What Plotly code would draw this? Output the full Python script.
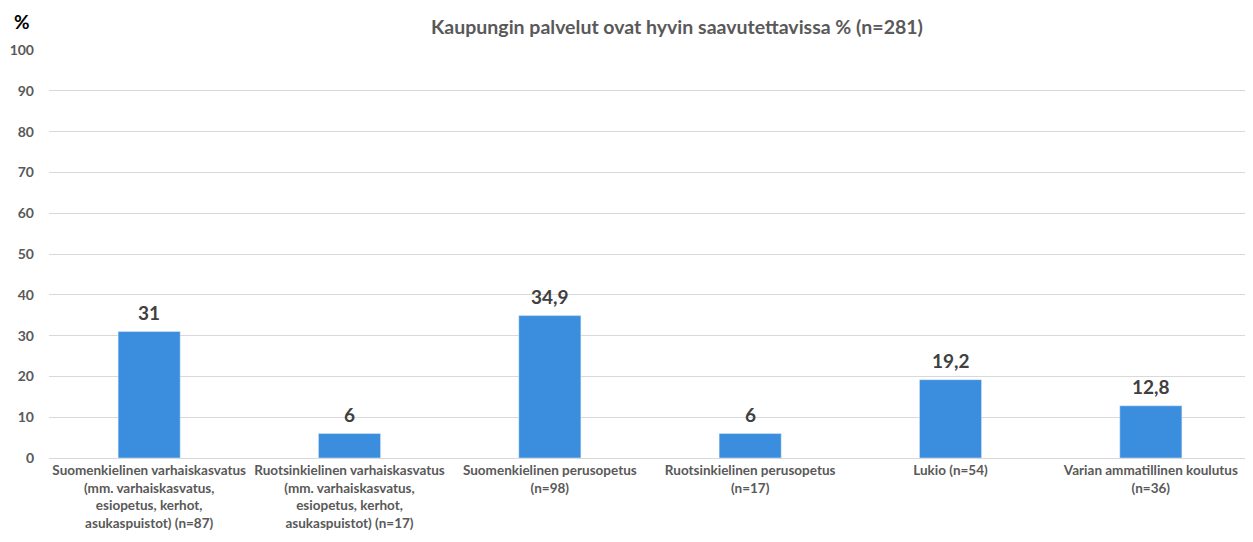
import plotly.graph_objects as go

categories = [
    "Suomenkielinen varhaiskasvatus<br>(mm. varhaiskasvatus,<br>esiopetus, kerhot,<br>asukaspuistot) (n=87)",
    "Ruotsinkielinen varhaiskasvatus<br>(mm. varhaiskasvatus,<br>esiopetus, kerhot,<br>asukaspuistot) (n=17)",
    "Suomenkielinen perusopetus<br>(n=98)",
    "Ruotsinkielinen perusopetus<br>(n=17)",
    "Lukio (n=54)",
    "Varian ammatillinen koulutus<br>(n=36)",
]
values = [31, 6, 34.9, 6, 19.2, 12.8]
labels = ["31", "6", "34,9", "6", "19,2", "12,8"]
y_ticks = list(range(0, 101, 10))

FONT = "Lato"
GRAY = "#595959"

W, H = 1245, 534
L, R, T, B = 39, 2, 42, 84
pw, ph = W - L - R, H - T - B

fig = go.Figure(go.Bar(
    x=categories, y=values,
    marker=dict(color="#3B8EDE"),
))
annotations = [
    dict(x=c, y=v, text="<b>%s</b>" % t, xref="x", yref="y", showarrow=False,
         yanchor="bottom", yshift=6,
         font=dict(family=FONT, size=19, color="#404040"))
    for c, v, t in zip(categories, values, labels)
]
annotations.append(dict(text="<b>%</b>", xref="paper", yref="paper",
                        x=(12 - L) / pw, y=(H - B - 1) / ph,
                        xanchor="center", yanchor="top", showarrow=False,
                        borderpad=0,
                        font=dict(family=FONT, size=19, color="black")))
fig.update_layout(
    width=W, height=H,
    margin=dict(l=L, r=R, t=T, b=B),
    paper_bgcolor="white", plot_bgcolor="white",
    bargap=0.69, showlegend=False,
    title=dict(text="<b>Kaupungin palvelut ovat hyvin saavutettavissa % (n=281)</b>",
               x=669 / W, xanchor="center", y=1 - 19 / H, yanchor="middle",
               font=dict(family=FONT, size=19.5, color=GRAY)),
    font=dict(family=FONT, color=GRAY),
    annotations=annotations,
)
fig.update_yaxes(range=[0, 100], tickvals=y_ticks, showgrid=True, gridcolor="#D9D9D9",
                 gridwidth=1, zeroline=False, showline=False, ticks="",
                 tickfont=dict(family=FONT, size=14, color=GRAY, weight="bold"),
                 ticklabelstandoff=14)
fig.update_xaxes(showline=True, linecolor="#D9D9D9", ticks="",
                 tickfont=dict(family=FONT, size=13.5, color=GRAY, weight="bold"),
                 tickangle=0)
fig.write_html("out.html")
